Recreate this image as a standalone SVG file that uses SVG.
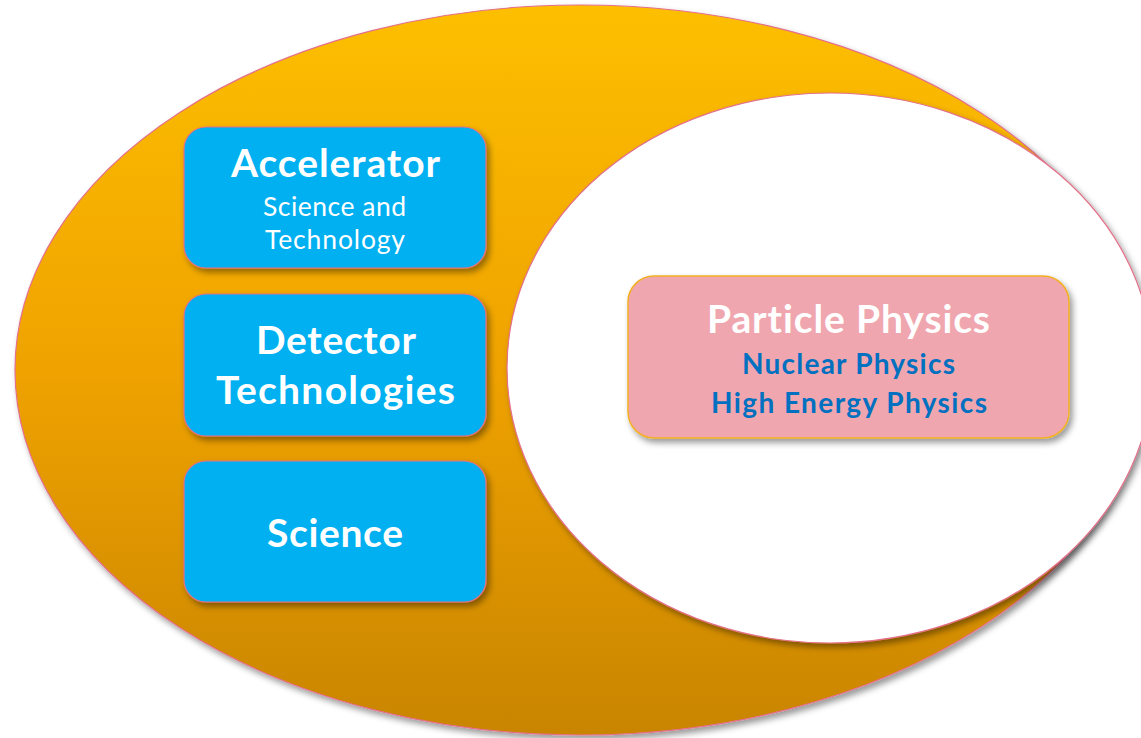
<svg xmlns="http://www.w3.org/2000/svg" width="1141" height="738" viewBox="0 0 1141 738">
  <defs>
    <linearGradient id="gOuter" x1="0" y1="0" x2="0" y2="1">
      <stop offset="0" stop-color="#FDBF00"/>
      <stop offset="0.5" stop-color="#EFA200"/>
      <stop offset="1" stop-color="#C98500"/>
    </linearGradient>
    <filter id="shadow" x="-10%" y="-10%" width="130%" height="130%">
      <feDropShadow dx="3" dy="4" stdDeviation="3" flood-color="#000" flood-opacity="0.4"/>
    </filter>
  </defs>
  <style>
    .ell { stroke: #E4708A; stroke-width: 1.2; }
    .box { fill: #00B0F0; stroke: #E4708A; stroke-width: 1.2; }
    .pink { fill: #F0A6AF; stroke: #F2B023; stroke-width: 1.5; }
    .t { font-family: Lato, "Open Sans", "Liberation Sans", sans-serif; text-anchor: middle; fill: #FFFFFF; font-variant-ligatures: none; }
    .b { font-weight: bold; }
    .blue { fill: #0070C0; }
  </style>
  <rect width="1141" height="738" fill="#FFFFFF"/>
  <g id="outer-ellipse">
    <ellipse class="ell" cx="580" cy="370" rx="565" ry="365" fill="url(#gOuter)" filter="url(#shadow)"/>
  </g>
  <g id="inner-ellipse">
    <ellipse class="ell" cx="830" cy="368" rx="323" ry="275" fill="#FFFFFF" filter="url(#shadow)"/>
  </g>
  <g id="connectors"/>
  <g id="node-accelerator">
    <rect class="box" x="184" y="127" width="302" height="141" rx="22" filter="url(#shadow)"/>
    <text class="t b" x="335.5" y="177" font-size="39" textLength="209">Accelerator</text>
    <text class="t" x="334.5" y="216" font-size="26.5" textLength="143">Science and</text>
    <text class="t" x="335" y="249" font-size="26.5" textLength="140">Technology</text>
  </g>
  <g id="node-detector">
    <rect class="box" x="184" y="294" width="302" height="142" rx="22" filter="url(#shadow)"/>
    <text class="t b" x="336" y="354" font-size="39" textLength="160">Detector</text>
    <text class="t b" x="335.5" y="404" font-size="39" textLength="239">Technologies</text>
  </g>
  <g id="node-science">
    <rect class="box" x="184" y="461" width="302" height="141" rx="22" filter="url(#shadow)"/>
    <text class="t b" x="335" y="547" font-size="39" textLength="136">Science</text>
  </g>
  <g id="node-particle">
    <rect class="pink" x="628" y="276" width="441" height="162" rx="26" filter="url(#shadow)"/>
    <text class="t b" x="848.5" y="333" font-size="39" textLength="283">Particle Physics</text>
    <text class="t b blue" x="848.5" y="374" font-size="28" textLength="213">Nuclear Physics</text>
    <text class="t b blue" x="849" y="413" font-size="28" textLength="276">High Energy Physics</text>
  </g>
</svg>
